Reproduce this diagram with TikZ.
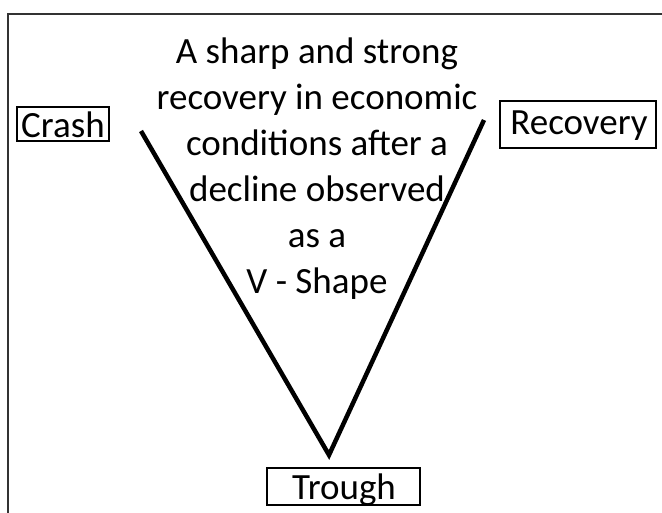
\documentclass[tikz,border=0pt]{standalone}
\usepackage{fontspec}
\setmainfont{Carlito}
\begin{document}
\begin{tikzpicture}[x=1pt,y=-1pt,
  big/.style={font=\fontsize{37}{46}\selectfont},
  box/.style={draw=black,line width=1.2pt,inner sep=0pt},
  vline/.style={line width=4.5pt,black},
  frameline/.style={line width=2pt,black!80}]
\useasboundingbox (0,0) rectangle (662,512);
\fill[white] (0,0) rectangle (662,512);
% frame
\coordinate (fb) at (8,513);
\coordinate (fc) at (8,14);
\coordinate (fr) at (663,14);
\draw[frameline] (fb) -- (fc) -- (fr);
% labels
\node[box,minimum width=92pt,minimum height=34pt] (crash) at (63,124) {};
\node[big,anchor=base] (crashtxt) at (63,137) {Crash};
\node[box,minimum width=156pt,minimum height=47pt] (recovery) at (578,124.5) {};
\node[big,anchor=base] (recoverytxt) at (579,134) {Recovery};
\node[box,minimum width=153pt,minimum height=37pt] (trough) at (343.5,486.5) {};
\node[big,anchor=base] (troughtxt) at (344,499) {Trough};
% V
\coordinate (vl) at (141,131);
\coordinate (vb) at (329,455);
\coordinate (vr) at (484,120);
\draw[vline] (vl) -- (vb) -- (vr);
% description
\node[big,align=center,anchor=base,inner sep=0pt] (desc) at (317,293)
  {A sharp and strong\\recovery in economic\\conditions after a\\decline observed\\as a\\V - Shape};
\end{tikzpicture}
\end{document}
